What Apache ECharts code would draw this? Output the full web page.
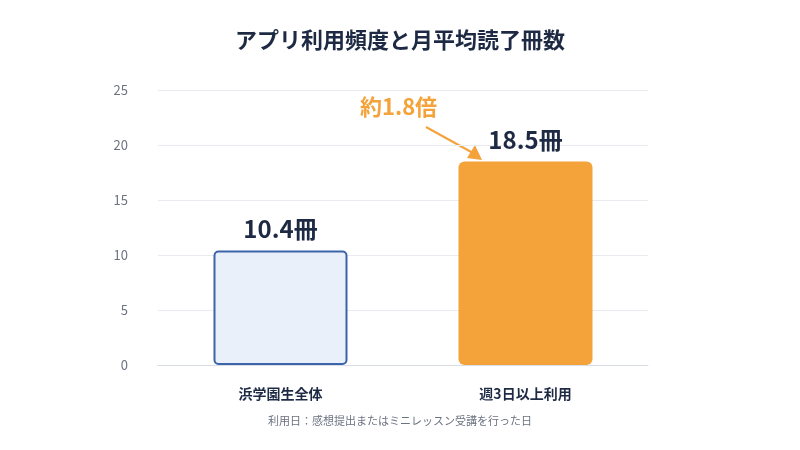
<!DOCTYPE html><html><head><meta charset="utf-8"><script src="https://cdn.jsdelivr.net/npm/echarts@6/dist/echarts.min.js"></script>
<style>html,body{margin:0;background:#fff}#c{width:800px;height:450px}</style></head><body><div id="c"></div><script>
const categories=['浜学園生全体','週3日以上利用'];
const values=[10.4,18.5];
const yTicks=[0,5,10,15,20,25];
const title='アプリ利用頻度と月平均読了冊数';
const note='利用日：感想提出またはミニレッスン受講を行った日';
const annotation='約1.8倍';
const F='"Noto Sans CJK JP","Noto Sans",sans-serif';
const c=echarts.init(document.getElementById('c'));
c.setOption({
 title:{text:title,left:'center',top:24,textStyle:{fontFamily:F,fontSize:22,fontWeight:'bold',color:'#1e2a44'}},
 grid:{left:158,right:152,top:90,bottom:85},
 xAxis:{type:'category',data:categories,axisTick:{show:false},axisLine:{lineStyle:{color:'#d8dde5'}},
  axisLabel:{margin:22,fontFamily:F,fontSize:14,fontWeight:'bold',color:'#1e2a44'}},
 yAxis:{type:'value',min:yTicks[0],max:yTicks[yTicks.length-1],interval:5,
  axisLabel:{margin:30,fontFamily:F,fontSize:13,color:'#6b7280'},splitLine:{lineStyle:{color:'#e8ebf0'}}},
 series:[{type:'bar',barWidth:134,
  data:values.map((v,i)=>({value:v,itemStyle:i==0?{color:'#e9f0f9',borderColor:'#3d63a8',borderWidth:2,borderRadius:4}:{color:'#f4a23a',borderRadius:6}})),
  label:{show:true,position:'top',distance:10,formatter:p=>p.value+'冊',fontFamily:F,fontSize:24,fontWeight:'bold',color:'#1e2a44'}}],
 graphic:[
  {type:'text',left:360,top:96,style:{text:annotation,fontFamily:F,fontSize:22,fontWeight:'bold',fill:'#f4a23a'}},
  {type:'line',shape:{x1:426,y1:127,x2:473,y2:153},style:{stroke:'#f4a23a',lineWidth:2}},
  {type:'polygon',shape:{points:[[482,160],[467,158],[475,145]]},style:{fill:'#f4a23a'}},
  {type:'text',left:'center',top:415,style:{text:note,fontFamily:F,fontSize:11,fill:'#6b7280'}}
 ]
});
</script></body></html>
